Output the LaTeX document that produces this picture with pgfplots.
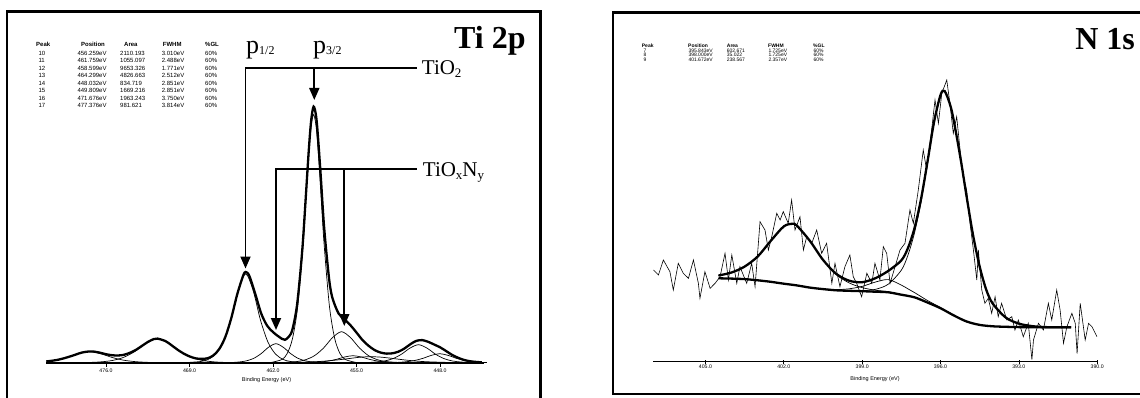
\documentclass[border=0pt]{standalone}
\usepackage{fontspec}
\setmainfont{Liberation Serif}
\newfontfamily\arial{Liberation Sans}
\usepackage{pgfplots}
\pgfplotsset{compat=1.18}
\usetikzlibrary{arrows.meta}
\pgfplotsset{
  xps/.style={scale only axis, axis y line=none, axis x line*=bottom, x dir=reverse, ymin=0, clip=false, no markers,
    x axis line style={line width=0.7pt,-}, xtick style={black,line width=0.6pt}, major tick length=4pt,
    xticklabel style={font=\arial\fontsize{5.2}{6}\selectfont, inner sep=1.5pt}},
  env/.style={line width=2.3pt, smooth, black},
  comp/.style={line width=0.7pt, smooth, black},
  noisy/.style={line width=0.6pt, black},
}
\newcommand{\tabf}{\arial\fontsize{6}{7}\selectfont}
\newcommand{\tabs}{\arial\fontsize{5}{5.5}\selectfont}
\begin{document}
\begin{tikzpicture}[x=1pt,y=1pt]
\useasboundingbox (0,0) rectangle (1140,397);
% frames
\draw[line width=2.6pt] (7,-5) -- (7,385.3) -- (540.5,385.3) -- (540.5,-5);
\draw[line width=2.6pt] (1150,3) -- (613,3) -- (613,384.5) -- (1150,384.5);

% ---------------- Ti 2p ----------------
\begin{axis}[xps, at={(46.35pt,34.3pt)}, anchor=south west, width=440.25pt, height=260pt,
  xmin=444.1, xmax=481, ymax=260, tick align=outside,
  xtick={476,469,462,455,448}, xticklabels={476.0,469.0,462.0,455.0,448.0}]
\addplot[line width=2.3pt] coordinates {(481,0) (444.3,0)};
% components
\addplot[comp] coordinates {(455.06,0.3) (455.945,3.2) (456.388,9.2) (456.83,24.1) (457.273,56.5) (457.715,117.6) (457.936,158.6) (458.158,201.1) (458.379,234.9) (458.6,248) (458.821,234.9) (459.043,201.1) (459.264,158.6) (459.485,117.6) (459.928,56.5) (460.37,24.1) (460.813,9.2) (461.255,3.2) (462.14,0.3)};
\addplot[comp] coordinates {(459.28,0.1) (460.535,1.2) (461.16,3.3) (461.788,8.6) (462.415,20.3) (463.043,42.2) (463.67,72.2) (464.3,89) (464.928,72.2) (465.555,42.2) (466.183,20.3) (466.81,8.6) (467.438,3.3) (468.065,1.2) (469.32,0.1)};
\addplot[comp] coordinates {(450.24,0) (451.745,0.4) (452.498,1.1) (453.25,3.0) (454.003,7.1) (454.755,14.7) (455.508,25.1) (456.26,31) (457.013,25.1) (457.765,14.7) (458.518,7.1) (459.27,3.0) (460.023,1.1) (460.775,0.4) (462.28,0)};
\addplot[comp] coordinates {(456.78,0) (458.025,0.2) (458.648,0.7) (459.27,1.8) (459.893,4.3) (460.515,9.0) (461.138,15.4) (461.76,19) (462.383,15.4) (463.005,9.0) (463.628,4.3) (464.25,1.8) (464.873,0.7) (465.495,0.2) (466.74,0)};
\addplot[comp] coordinates {(445.535,0.2) (446.248,0.7) (446.96,1.7) (447.673,4.1) (448.385,8.5) (449.098,14.6) (449.81,18) (450.523,14.6) (451.235,8.5) (451.948,4.1) (452.66,1.7) (453.373,0.7) (454.085,0.2) (455.51,0)};
\addplot[comp] coordinates {(444.468,0.3) (445.18,0.9) (445.893,2.1) (446.605,4.3) (447.318,7.3) (448.03,9) (448.743,7.3) (449.455,4.3) (450.168,2.1) (450.88,0.9) (451.593,0.3) (452.305,0.1) (453.73,0)};
\addplot[comp] coordinates {(464.18,0) (466.055,0.3) (466.993,0.9) (467.93,2.3) (468.868,5.5) (469.805,11.4) (470.743,19.5) (471.68,24) (472.618,19.5) (473.555,11.4) (474.493,5.5) (475.43,2.3) (476.368,0.9) (477.305,0.3) (479.18,0)};
\addplot[comp] coordinates {(469.76,0) (471.665,0.1) (472.618,0.4) (473.57,1.1) (474.523,2.5) (475.475,5.2) (476.428,8.9) (477.38,11) (478.333,8.9) (479.285,5.2) (480.238,2.5) (481,1.3)};
\addplot[comp] coordinates {(451.1,0.1) (451.8,0.3) (452.5,0.7) (453.2,1.6) (453.9,3.3) (454.6,5.7) (455.3,7) (456.0,5.7) (456.7,3.3) (457.4,1.6) (458.1,0.7) (458.8,0.3) (459.5,0.1)};
\addplot[comp] coordinates {(446,0.1) (447,0.2) (448,0.5) (449,0.9) (450,1.6) (451,2.8) (452,4.3) (453,5.6) (453.8,6) (454.5,5.7) (455,5.1) (456,3.6) (457,2.3) (458,1.3) (459,0.7) (460,0.4)};
% envelope
\addplot[env] coordinates {(481,1.3) (480.5,2.0) (480,3.0) (479.5,4.5) (479,6.3) (478.5,8.3) (478,10.2) (477.4,11.3) (477,11.1) (476.5,10.0) (476,8.5) (475.5,7.5) (475,7.2) (474.5,7.9) (474,9.9) (473.5,12.8) (473,16.7) (472.5,20.7) (472,23.6) (471.68,24.1) (471,21.5) (470.5,17.4) (470,13.0) (469.5,9.2) (469,6.3) (468.5,4.4) (468,3.8) (467.5,4.4) (467,7.3) (466.5,13.8) (466,25.7) (465.5,44.6) (465,68.5) (464.5,87.2) (464.3,90.7) (464,87.2) (463.5,69.2) (463,49.5) (462.5,37.1) (462,30.6) (461.5,25.9) (461,22.9) (460.5,29.0) (460.25,39.7) (460,56.6) (459.75,85.0) (459.5,120.5) (459.25,166.7) (459,213.2) (458.8,242.8) (458.6,256.1) (458.4,247.4) (458.25,228.5) (458,186.4) (457.75,140.2) (457.5,106.7) (457.25,78.9) (457,63.8) (456.5,49.1) (456,43.3) (455.5,37.3) (455,30.1) (454.5,22.6) (454,17.0) (453.5,12.7) (453,10.2) (452.5,9.1) (452,9.4) (451.5,11.0) (451,14.1) (450.5,18.4) (450,21.8) (449.5,22.6) (449,20.9) (448.5,18.2) (448,15.4) (447.5,11.7) (447,7.9) (446.5,5.0) (446,2.8) (445.5,1.5) (445,0.8) (444.5,0.3)};
\end{axis}

% ---------------- N 1s ----------------
\begin{axis}[xps, at={(653.2pt,35.4pt)}, anchor=south west, width=444pt, height=290pt,
  xmin=390, xmax=407, ymax=290, tick align=center,
  xtick={405,402,399,396,393,390}, xticklabels={405.0,402.0,399.0,396.0,393.0,390.0}]
% raw data
\addplot[noisy] coordinates {(406.99,91.6) (406.80,86.6) (406.61,101.6) (406.36,89.9) (406.23,71.6) (406.04,98.3) (405.85,88.3) (405.65,83.3) (405.46,101.6) (405.27,78.3) (405.21,63.3) (405.02,89.9) (404.82,73.3) (404.63,78.3) (404.44,84.9) (404.25,108.3) (404.12,81.6) (403.99,106.6) (403.80,78.3) (403.68,94.9) (403.42,78.3) (403.23,98.3) (403.10,74.9) (402.91,139.9) (402.72,131.6) (402.59,111.6) (402.46,125.0) (402.27,148.3) (402.14,141.6) (402.02,150.0) (401.83,138.3) (401.70,161.6) (401.57,131.6) (401.38,144.9) (401.25,111.6) (401.12,125.0) (400.93,118.3) (400.74,131.6) (400.55,108.3) (400.36,118.3) (400.16,78.3) (400.04,98.3) (399.85,74.9) (399.66,94.9) (399.47,106.6) (399.34,84.9) (399.21,78.3) (399.02,64.9) (398.82,88.3) (398.63,78.3) (398.51,98.3) (398.32,81.6) (398.19,114.9) (398.06,108.3) (397.93,78.3) (397.74,94.9) (397.55,111.6) (397.36,118.3) (397.17,151.6) (397.04,138.3) (396.85,171.6) (396.66,211.6) (396.53,191.6) (396.34,231.6) (396.21,261.6) (396.08,238.3) (395.95,268.3) (395.76,281.6) (395.64,258.3) (395.51,228.3) (395.38,244.9) (395.25,211.6) (395.13,184.9) (395.00,171.6) (394.87,138.3) (394.74,111.6) (394.61,81.6) (394.55,111.6) (394.42,71.6) (394.30,58.3) (394.17,63.3) (394.04,48.3) (393.91,64.9) (393.79,44.9) (393.66,58.3) (393.46,41.6) (393.27,44.9) (393.15,31.6) (393.02,41.6) (392.83,24.9) (392.64,38.3) (392.50,2.0) (392.44,21.6) (392.25,38.3) (392.06,31.6) (391.87,58.3) (391.74,41.6) (391.55,71.6) (391.42,51.6) (391.29,18.3) (391.16,34.9) (390.97,48.3) (390.84,38.3) (390.77,8.0) (390.65,58.3) (390.46,21.6) (390.33,38.3) (390.20,34.9) (390.01,24.9)};
% components
\addplot[comp] coordinates {(404.5,86.1) (404,89.1) (403.5,95.0) (403,105.1) (402.5,120.7) (402,135.2) (401.67,137.8) (401.5,136.0) (401,120.7) (400.5,101.6) (400,87.2) (399.5,78.7) (399,74.0) (398.5,71.4) (398,69.9) (397.5,67.1)};
\addplot[comp] coordinates {(400.5,72.7) (400,72.0) (399.5,72.8) (399,75.2) (398.5,79.5) (398,82.0) (397.5,76.5) (397.25,72.8) (397,69.1) (396.75,65.1) (396.5,61.1) (396.25,57.6) (396,54.1) (395.84,51.5) (395.6,48.0) (395.5,46.3)};
\addplot[comp] coordinates {(399.5,71.0) (399,71.0) (398.5,72.2) (398,77.4) (397.5,91.4) (397.25,106.2) (397,128.2) (396.75,158.8) (396.5,197.5) (396.25,238.0) (396,265.8) (395.84,270.0) (395.6,253.7) (395.4,227.9) (395.2,198) (395,165) (394.75,126) (394.5,95) (394.25,72) (394,58) (393.5,44) (393,38) (392.5,35.4) (392,34.4) (391.5,34.3)};
% background
\addplot[env] coordinates {(404.5,83.3) (404,83.0) (403.5,82.5) (403,81.3) (402.5,79.8) (402,77.9) (401.5,76.2) (401,74.0) (400.5,72.5) (400,71.3) (399.5,70.8) (399,70.4) (398.5,69.9) (398,69.3) (397.5,66.9) (397,64.3) (396.5,59.1) (396,53.4) (395.5,46.3) (395,40.1) (394.5,36.7) (394,35.3) (393.5,34.8) (393,34.5) (392,34.3) (391,34.3)};
% envelope
\addplot[env] coordinates {(404.5,86.1) (404,89.1) (403.5,95.0) (403,105.1) (402.5,120.7) (402,135.2) (401.67,137.8) (401.5,136.0) (401,120.7) (400.5,101.8) (400,87.9) (399.5,80.9) (399,79.4) (398.5,83.3) (398,90.7) (397.5,101.2) (397.25,113.3) (397,133.0) (396.75,161.9) (396.5,199.5) (396.25,239.2) (396,266.5) (395.84,270.5) (395.6,254) (395.4,228) (395.2,198) (395,165) (394.75,126) (394.5,95) (394.25,72) (394,58) (393.5,44) (393,38) (392.5,35.5) (392,34.5) (391.5,34.3) (391,34.3)};
\end{axis}

% axis titles
\node[font=\arial\fontsize{5.5}{6}\selectfont] at (266.5,16.5) {Binding Energy (eV)};
\node[font=\arial\fontsize{5.5}{6}\selectfont] at (875,17.5) {Binding Energy (eV)};

% panel titles
\node[anchor=base west, inner sep=0, font=\bfseries\fontsize{32}{34}\selectfont] at (454,348.7) {Ti 2p};
\node[anchor=base east, inner sep=0, font=\bfseries\fontsize{32}{34}\selectfont] at (1135,347.5) {N 1s};

% annotations
\tikzset{ann/.style={line width=1.8pt}, tip/.style={-{Triangle[width=10pt,length=12pt]}}}
\draw[ann, tip] (416.7,328.7) -- (245.5,328.7) -- (245.5,128.5);
\draw[ann, tip] (314.3,328.7) -- (314.3,297);
\draw[ann, tip] (416.7,228) -- (276,228) -- (276,67);
\draw[ann, tip] (344.3,228) -- (344.3,71);
\node[anchor=base west, inner sep=0] at (246,343.7) {\fontsize{26}{28}\selectfont p\raisebox{-1pt}{\fontsize{12}{13}\selectfont 1/2}};
\node[anchor=base west, inner sep=0] at (313,343.7) {\fontsize{26}{28}\selectfont p\raisebox{-1pt}{\fontsize{12}{13}\selectfont 3/2}};
\node[anchor=base west, inner sep=0] at (421.7,322) {\fontsize{21}{23}\selectfont TiO\raisebox{-3pt}{\fontsize{13}{14}\selectfont 2}};
\node[anchor=base west, inner sep=0] at (422.7,221) {\fontsize{21}{23}\selectfont TiO\raisebox{-3pt}{\fontsize{13}{14}\selectfont x}N\raisebox{-3pt}{\fontsize{13}{14}\selectfont y}};

% left table
\begin{scope}[every node/.style={anchor=base west, inner sep=0, font=\tabf}]
\node at (36,350) {\bfseries Peak};
\node at (81,350) {\bfseries Position};
\node at (124,350) {\bfseries Area};
\node at (162.7,350) {\bfseries FWHM};
\node at (205,350) {\bfseries \%GL};
\foreach \r/\p/\a/\f [count=\i from 0] in {10/456.259eV/2110.193/3.010eV, 11/461.759eV/1055.097/2.488eV, 12/458.599eV/9653.326/1.771eV, 13/464.299eV/4826.663/2.512eV, 14/448.032eV/834.719/2.851eV, 15/449.809eV/1669.216/2.851eV, 16/471.676eV/1963.243/3.750eV, 17/477.376eV/981.621/3.814eV}{
  \node at (38.3,341.5-7.5*\i) {\r};
  \node at (77.3,341.5-7.5*\i) {\p};
  \node at (120,341.5-7.5*\i) {\a};
  \node at (161.7,341.5-7.5*\i) {\f};
  \node at (205,341.5-7.5*\i) {60\%};
}
\end{scope}

% right table
\begin{scope}[every node/.style={anchor=base west, inner sep=0, font=\tabs}]
\node at (641.7,349.5) {\bfseries Peak};
\node at (688,349.5) {\bfseries Position};
\node at (726.7,349.5) {\bfseries Area};
\node at (768,349.5) {\bfseries FWHM};
\node at (813,349.5) {\bfseries \%GL};
\foreach \r/\p/\a/\f/\yy in {7/395.843eV/602.671/1.725eV/344.5, 8/398.000eV/35.022/1.725eV/340.2, 9/401.672eV/238.567/2.357eV/335.9}{
  \node at (643.3,\yy) {\r};
  \node at (688.3,\yy) {\p};
  \node at (726.7,\yy) {\a};
  \node at (768.3,\yy) {\f};
  \node at (813.3,\yy) {60\%};
}
\end{scope}
\end{tikzpicture}
\end{document}
